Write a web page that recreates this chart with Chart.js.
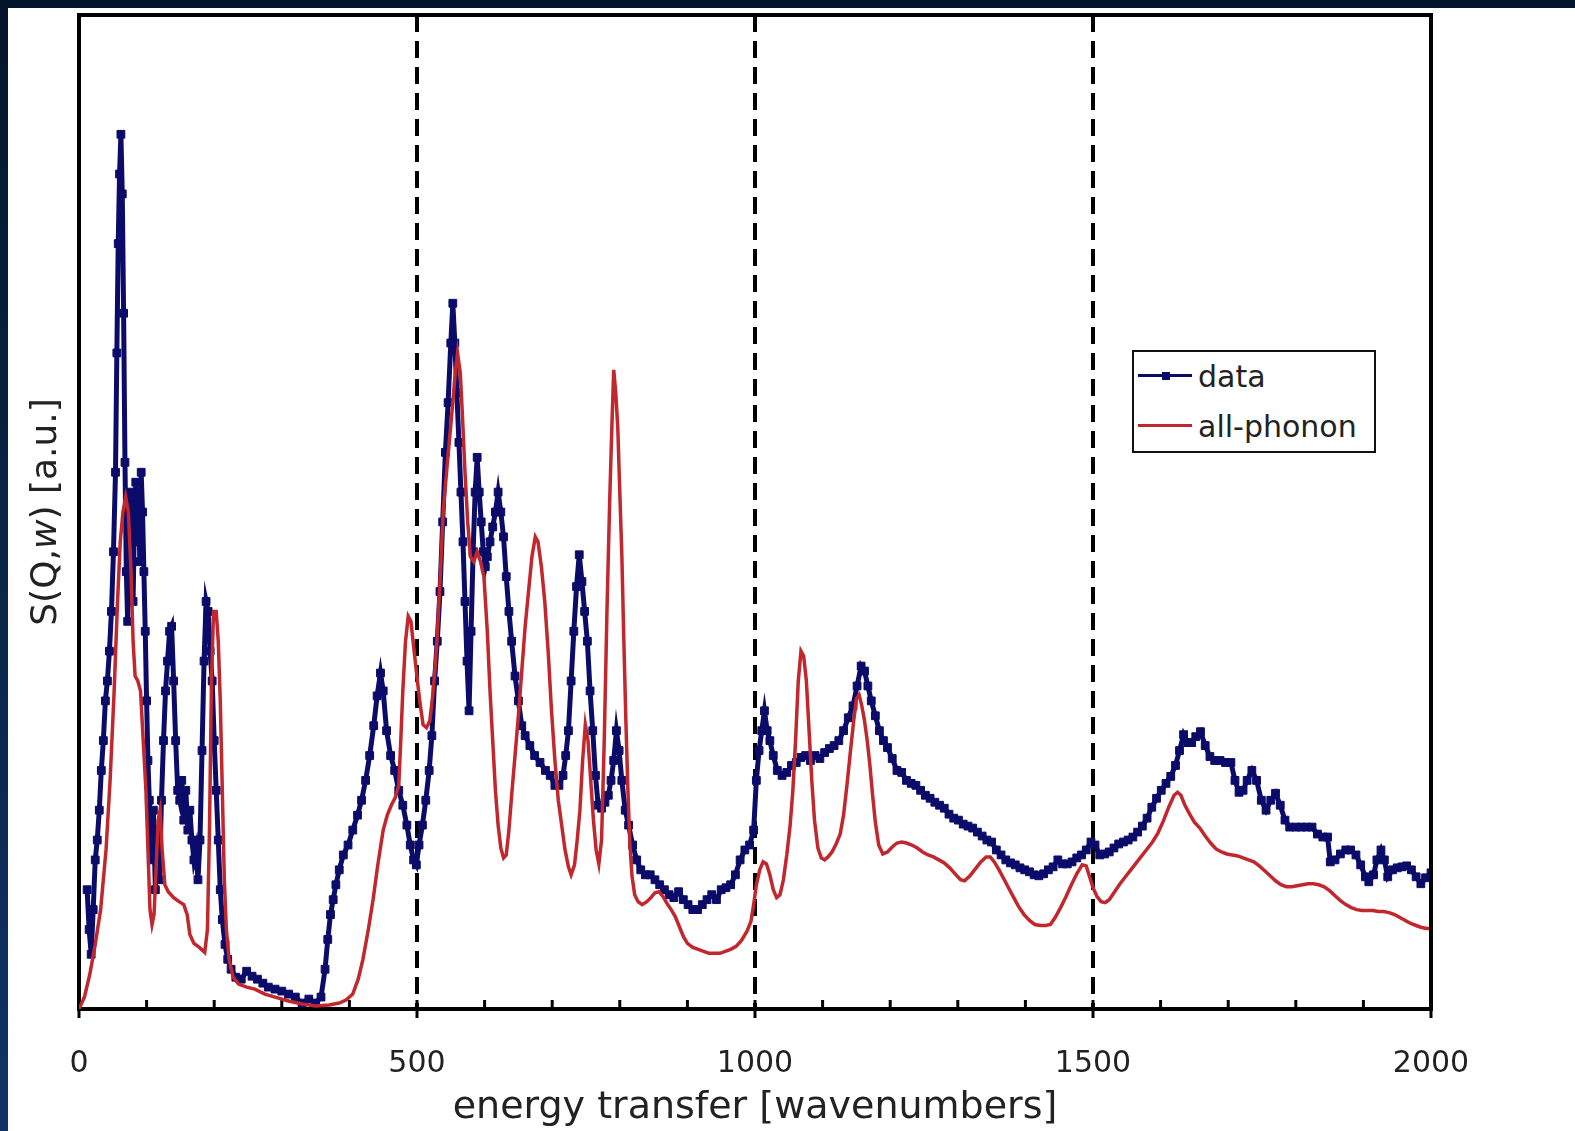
<!DOCTYPE html>
<html>
<head>
<meta charset="utf-8">
<title>S(Q,w) spectrum</title>
<script src="https://cdn.jsdelivr.net/npm/chart.js@4.4.1/dist/chart.umd.min.js"></script>
<style>
  html, body { margin: 0; padding: 0; background: #ffffff; }
  body { width: 1575px; height: 1131px; position: relative; overflow: hidden; font-family: "DejaVu Sans", sans-serif; }
  #topband { position: absolute; left: 0; top: 0; width: 1575px; height: 8px; background: #03152b; }
  #leftband { position: absolute; left: 0; top: 0; width: 8px; height: 1131px; background: linear-gradient(#03152b, #0f3464); }
  #c { position: absolute; left: 0; top: 0; }
  #legend { position: absolute; left: 1132px; top: 350px; width: 240px; height: 99px; border: 2px solid #111; background: #fff; }
  #legend .ln { position: absolute; left: 4px; width: 54px; height: 3px; }
  #legend .mk { position: absolute; left: 28px; width: 8px; height: 8px; }
  #legend .tx { position: absolute; left: 64px; font-size: 30px; line-height: 30px; color: #222; white-space: nowrap; }
</style>
</head>
<body>
<div id="topband"></div>
<div id="leftband"></div>
<canvas id="c" width="1575" height="1131"></canvas>
<div id="legend">
  <div class="ln" style="top:22px;background:#0b0b6a;"></div>
  <div class="mk" style="top:20px;background:#0b0b6a;"></div>
  <div class="tx" style="top:10px;">data</div>
  <div class="ln" style="top:72px;background:#c1272d;"></div>
  <div class="tx" style="top:60px;">all-phonon</div>
</div>
<script>
// measured spectrum: energy transfer (wavenumbers) and S(Q,w) in arbitrary units
const dataE = [12,15,18,21,24,27,30,33,36,39,42,45,48,51,54,56,58,60,62,64,66,68,70,72,74,76,78,80,82,84,86,88,90,92,94,96,98,100,102,104,107,110,113,116,119,122,125,128,131,134,137,140,143,146,149,152,155,158,161,164,167,170,173,176,179,182,185,188,191,194,197,200,203,206,209,212,216,220,225,232,240,248,256,264,272,280,290,300,310,320,330,340,350,358,364,368,372,376,380,385,391,398,405,412,418,424,430,436,441,446,450,455,461,467,473,479,485,490,495,499,503,508,513,518,522,526,530,534,538,542,546,550,553,556,559,562,565,568,571,574,577,580,583,586,589,592,595,598,601,604,608,612,616,620,624,628,632,636,640,645,650,655,660,667,674,682,690,697,704,710,716,720,724,728,732,736,740,744,748,752,756,760,764,768,773,778,783,787,791,795,799,803,808,813,819,825,831,838,845,852,859,866,873,880,887,894,901,908,915,922,929,936,943,950,957,964,971,978,985,992,998,1002,1006,1010,1014,1018,1022,1027,1033,1040,1047,1054,1061,1068,1075,1082,1089,1096,1103,1110,1117,1124,1131,1138,1145,1151,1157,1162,1167,1172,1178,1184,1190,1196,1203,1210,1217,1224,1231,1238,1245,1252,1259,1266,1273,1280,1287,1294,1301,1308,1315,1322,1329,1336,1343,1350,1357,1364,1371,1378,1385,1392,1399,1406,1413,1420,1427,1434,1441,1448,1455,1462,1469,1476,1483,1490,1497,1503,1510,1517,1524,1531,1538,1545,1552,1559,1566,1573,1580,1587,1594,1601,1608,1615,1622,1628,1634,1640,1646,1652,1659,1666,1673,1680,1688,1696,1704,1710,1716,1722,1728,1735,1742,1749,1756,1763,1770,1777,1784,1791,1800,1808,1816,1824,1832,1840,1847,1851,1858,1866,1874,1881,1889,1896,1903,1908,1915,1920,1926,1931,1936,1943,1950,1957,1964,1971,1978,1985,1992,2000];
const dataS = [12,8,5.5,10,15,17,20,24,27,31,33,36,40,46,54,66,77,84,88,82,70,55,44,39,45,52,47,41,49,53,47,51,45,54,50,44,38,31,25,21,15,20,12,18,13,21,27,32,35,38,38.5,33,27,22,21,23,19,22,18,20,17,15,16,13,17,26,35,41,40,36,33,27,22,17,12,9,6.5,5,4,3.2,3,3.8,3.3,3,2.6,2.2,2,1.8,1.5,1.2,0.6,1,0.6,1.2,4,7,9.5,11,12.5,14,15.5,16.5,18,19.5,21,23,25.5,28.5,31.5,33.8,32,28,25.5,24,22,20.5,18.5,16.5,15,14.5,16.5,18.5,21,24,27.5,33,37,42,49,56,61,67,71,67,62,57,52,47,41,35,30,38,46,52,55.5,52,49,46,44.5,45.5,47,48.5,50,52,50,47.5,43.5,40,37,33.5,31,28.5,27.5,26.5,25.5,24.8,24,23.5,22.5,22.5,23.5,25.5,28,33,38,42.5,45.7,43,40,37,32,28,23.5,20.5,20.2,20.8,21.5,23,25,28,26,23,20,18.5,16.5,15,14,13.5,13.5,13,12.5,12,11.5,11.2,11.8,11,10.5,10,10,10.5,11,11.5,11,12,12.2,12.5,13.5,15,16,16.5,18,23,26,28,30,28,27,25.5,24,23.5,23.8,24.5,24.8,25.3,25.5,25,25.5,25.2,25.8,26.2,26.5,27,28,29.3,30.5,32.5,34.5,34,32.5,31,29.5,28,27,26.3,25.2,24,23.8,23,22.7,22.5,22,21.5,21.2,20.8,20.5,20.2,19.6,19.2,19,18.6,18.4,18.2,17.8,17.4,17,16.8,16,15.5,15,14.7,14.5,14.2,14,13.8,13.5,13.4,13.6,14,14.3,15,14.6,14.6,14.8,15.2,15.5,16,16.8,16.5,15.5,15.6,15.8,16.2,16.6,16.8,17,17.3,17.8,18.4,19.2,20.3,21.2,22,22.7,23.4,24.5,26,27.6,26.8,26.8,27.4,27.9,26.5,25.4,25,25,24.8,24.8,23,21.8,22,23,24,23,21,20,21,21.7,20.5,19,18.3,18.3,18.3,18.3,18.3,17.6,17.3,17.3,14.8,15,15.6,16,16,15.5,14.5,13.3,12.8,13.5,15,16,15,13.3,14,14.2,14.3,14.4,14,13.3,12.6,13.2,13.7];

// calculated all-phonon spectrum on the same energy scale
const phononE = [0,8,16,24,32,40,46,52,57,61,65,69,73,77,80,83,87,91,95,99,102,105,108,111,114,117,120,123,127,132,140,148,155,160,164,170,178,186,190,193,196,199,203,206,209,212,215,218,222,228,236,248,260,275,290,310,330,350,370,385,395,405,413,420,428,435,442,450,456,462,468,473,476,479,483,487,491,495,499,504,509,514,519,524,529,534,539,545,551,556,560,564,567,571,575,579,584,589,594,599,604,608,612,616,620,624,628,632,636,640,645,650,655,660,665,670,675,679,684,689,694,699,704,709,714,719,724,728,733,737,741,745,749,753,757,761,765,769,773,777,781,785,788,791,794,797,800,803,806,809,812,815,818,822,827,833,840,846,852,858,864,870,876,882,888,894,900,908,916,924,932,940,948,956,964,972,980,988,994,998,1002,1007,1012,1017,1022,1027,1032,1037,1042,1047,1052,1056,1060,1064,1068,1072,1076,1080,1084,1088,1093,1098,1103,1108,1114,1120,1126,1131,1136,1141,1146,1150,1154,1158,1162,1166,1170,1174,1178,1183,1189,1196,1203,1210,1217,1224,1232,1240,1248,1256,1264,1272,1280,1288,1296,1304,1310,1318,1326,1334,1342,1348,1354,1361,1368,1375,1382,1390,1398,1406,1414,1422,1430,1437,1444,1452,1460,1468,1476,1484,1490,1495,1500,1506,1512,1518,1524,1532,1540,1548,1556,1564,1572,1580,1588,1596,1604,1612,1620,1625,1630,1636,1643,1650,1658,1666,1674,1682,1690,1698,1706,1714,1722,1730,1738,1746,1754,1762,1770,1778,1786,1794,1802,1810,1818,1826,1834,1842,1850,1858,1866,1874,1882,1890,1898,1906,1914,1922,1930,1938,1946,1954,1962,1970,1978,1986,1994,2000];
const phononS = [0,1.2,3.5,6.5,10,16,23,32,41,47,50,51.5,50,44,37,33.5,33,32,27,22,16,10,8.5,9.5,14,19,20,16,12.5,11.8,11.2,10.8,10.5,9.5,7.5,6.6,6.2,5.7,8,18,33,40,40,37,31,22,13,8,5,3.2,2.5,2.2,2,1.5,1.2,0.8,0.5,0.3,0.4,0.6,0.9,1.5,3,5,8,11,14.5,18,19.5,20.5,21.3,22.5,27,32,37,39.5,39,36.5,34,31,28.6,28.3,29,32,36.4,43,50.3,55,59.5,63.5,66,64,60,54,49,45.5,45,46,45,43.5,38,32,27,22,18.5,16.2,15.2,15.5,18,21.5,25.5,29.5,34,38.5,42,45.5,47.5,47,44.5,41,36,30,25,21,18.5,16,14.3,13.5,14.5,17,20,25,28.6,27,23,19,16,14.6,17,27,40,51,58,64.3,62,58.5,52,45.7,37,29,22,16.5,13.4,11.5,10.8,10.5,10.8,11.2,11.7,11.8,11.3,10.6,10,9.3,8.3,7.3,6.6,6.2,6,5.8,5.6,5.6,5.6,5.8,6,6.3,6.9,7.8,8.8,10.5,12.5,14,14.8,14.6,13.5,12,11.2,11.5,13,15.5,18.5,22,27,33,36,35.5,33,28,23,19,16.2,15.2,15,15.3,15.8,16.6,17.6,19.5,22.5,25.8,29,31.2,31.6,30.5,29,27,24.5,21.5,18.8,16.5,15.6,15.8,16.3,16.7,16.8,16.7,16.5,16.2,15.8,15.5,15.3,15,14.7,14.2,13.6,13,12.9,13.4,14.1,14.8,15.3,15.3,14.8,14,13.1,12.2,11.3,10.3,9.5,8.9,8.5,8.4,8.4,8.5,9.2,10.2,11.3,12.5,13.6,14.5,14.4,13.3,12.2,11.3,10.8,10.7,11,11.8,12.6,13.3,14,14.7,15.4,16.1,16.8,17.7,18.9,20.3,21.5,21.8,21.5,20.5,19.6,18.8,18.2,17.4,16.7,16.1,15.8,15.6,15.5,15.4,15.2,15,14.8,14.4,13.9,13.4,12.9,12.5,12.3,12.3,12.4,12.5,12.6,12.6,12.5,12.3,11.9,11.4,10.9,10.5,10.2,10,9.9,9.9,9.9,9.8,9.8,9.7,9.5,9.2,8.9,8.6,8.4,8.2,8.1,8.1];

// axis layout values
const xRange = [0, 2000];
const tickStep = 100;
const labelEvery = 500;
const dashedAt = [500, 1000, 1500];

const NAVY = '#0b0b6a';
const RED = '#c1272d';
const FONT = '"DejaVu Sans", sans-serif';

const toPoints = (xs, ys) => xs.map((x, i) => ({ x: x, y: ys[i] }));

// plot frame, inward minor ticks and the y-axis title (w in italics)
const decorations = {
  id: 'decorations',
  beforeDatasetsDraw(chart) {
    const { ctx, chartArea: a, scales: { x } } = chart;
    ctx.save();
    ctx.strokeStyle = '#000';
    ctx.lineWidth = 3;
    x.ticks.forEach(t => {
      const px = x.getPixelForValue(t.value);
      ctx.beginPath();
      ctx.moveTo(px, a.bottom);
      ctx.lineTo(px, a.bottom - 9);
      ctx.stroke();
    });
    ctx.restore();
  },
  afterDatasetsDraw(chart) {
    const { ctx, chartArea: a } = chart;
    ctx.save();
    ctx.strokeStyle = '#000';
    ctx.lineWidth = 4;
    ctx.beginPath();
    ctx.moveTo(a.left - 2, a.top);
    ctx.lineTo(a.right, a.top);
    ctx.lineTo(a.right, a.bottom + 2);
    ctx.stroke();
    ctx.restore();
  },
  afterDraw(chart) {
    const { ctx, chartArea: a } = chart;
    const parts = [['S(Q,', 'normal'], ['w', 'italic'], [') [a.u.]', 'normal']];
    ctx.save();
    ctx.translate(56, (a.top + a.bottom) / 2);
    ctx.rotate(-Math.PI / 2);
    ctx.fillStyle = '#222';
    ctx.textBaseline = 'alphabetic';
    ctx.textAlign = 'left';
    let total = 0;
    const widths = parts.map(([s, st]) => {
      ctx.font = st + ' 36px ' + FONT;
      const w = ctx.measureText(s).width;
      total += w;
      return w;
    });
    let cx = -total / 2;
    parts.forEach(([s, st], i) => {
      ctx.font = st + ' 36px ' + FONT;
      ctx.fillText(s, cx, 0);
      cx += widths[i];
    });
    ctx.restore();
  }
};

new Chart(document.getElementById('c'), {
  type: 'line',
  data: {
    datasets: [
      {
        label: 'all-phonon',
        data: toPoints(phononE, phononS),
        borderColor: RED,
        borderWidth: 3.5,
        pointRadius: 0,
        tension: 0,
        order: 1
      },
      {
        label: 'data',
        data: toPoints(dataE, dataS),
        borderColor: NAVY,
        backgroundColor: NAVY,
        borderWidth: 5,
        pointStyle: 'rect',
        pointRadius: 5.5,
        pointBorderWidth: 1,
        pointBorderColor: NAVY,
        tension: 0,
        order: 2
      }
    ]
  },
  options: {
    responsive: false,
    animation: false,
    layout: { padding: { left: 79, top: 15, right: 144, bottom: 0 } },
    plugins: { legend: { display: false }, tooltip: { enabled: false } },
    scales: {
      x: {
        type: 'linear',
        min: xRange[0],
        max: xRange[1],
        ticks: {
          stepSize: tickStep,
          autoSkip: false,
          maxRotation: 0,
          padding: 28,
          color: '#222',
          font: { family: FONT, size: 30 },
          callback: v => (v % labelEvery === 0 ? String(v) : '')
        },
        grid: {
          color: c => (c.tick && dashedAt.includes(c.tick.value) ? '#000' : 'rgba(0,0,0,0)'),
          lineWidth: 4,
          drawTicks: true,
          tickLength: 9,
          tickWidth: 3,
          tickColor: c => (c.tick && c.tick.value % labelEvery === 0 ? '#000' : 'rgba(0,0,0,0)')
        },
        border: { display: true, color: '#000', width: 4, dash: [17, 9] },
        title: {
          display: true,
          text: 'energy transfer [wavenumbers]',
          color: '#222',
          font: { family: FONT, size: 38 },
          padding: { top: 0, bottom: 0 }
        },
        afterFit: s => { s.height = 122; }
      },
      y: {
        min: 0,
        max: 100,
        ticks: { display: false },
        grid: { display: false, drawTicks: false },
        border: { display: true, color: '#000', width: 4 },
        afterFit: s => { s.width = 0; }
      }
    }
  },
  plugins: [decorations]
});
</script>
</body>
</html>
